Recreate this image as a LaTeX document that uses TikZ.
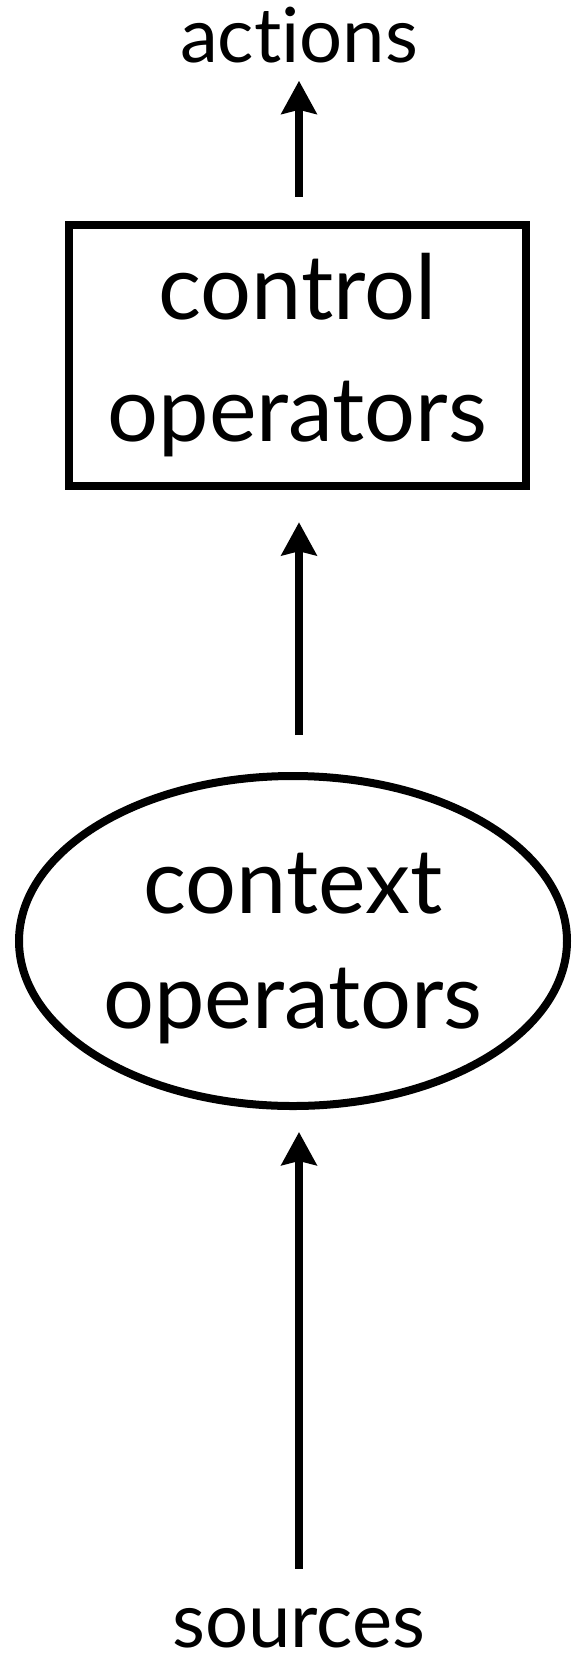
\documentclass[tikz,border=0pt]{standalone}
\usepackage{fontspec}
\setmainfont{Lato}[Ligatures=NoCommon]
\usetikzlibrary{arrows.meta, shapes.geometric}

\begin{document}
\begin{tikzpicture}[x=1pt, y=-1pt, >={Stealth[length=33pt, width=35pt, inset=4pt]}, line cap=butt]
	\tikzset{
		lbl/.style={inner sep=0pt, font=\fontsize{76}{90}\selectfont},
		opbox/.style={draw, line width=8.5pt, align=center, inner sep=0pt},
		arr/.style={->, line width=8pt},
	}
	\useasboundingbox (0,0) rectangle (572,1659);

	% inputs and outputs
	\node[lbl, anchor=base] (act) at (299,63) {actions};
	\node[lbl, anchor=base] (src) at (299,1647) {sources};

	% operators
	\node[opbox, rectangle, minimum width=457pt, minimum height=261pt,
		font=\fontsize{90}{122}\selectfont] (ctrl) at (297.5,355.5) {control\\operators};
	\node[opbox, ellipse, line width=8pt, minimum width=548pt, minimum height=330pt,
		font=\fontsize{90}{115}\selectfont] (ctx) at (293,941)
		{context\\\raisebox{0pt}[\height][0pt]{operators}};

	% arrows
	\draw[arr, shorten <=24pt, shorten >=17pt] (act |- ctrl.north) -- (act);
	\draw[arr, shorten <=37pt, shorten >=32pt] (act |- ctx.north) -- (act |- ctrl.south);
	\draw[arr, shorten <=39pt, shorten >=22pt] (src) -- (src |- ctx.south);
\end{tikzpicture}
\end{document}
